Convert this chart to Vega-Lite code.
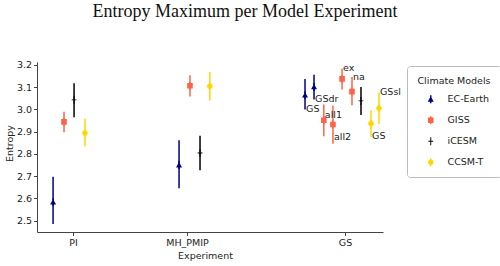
{
  "$schema": "https://vega.github.io/schema/vega-lite/v6.json",
  "width": 346,
  "height": 170,
  "autosize": {"type": "none"},
  "padding": {"left": 37, "top": 62, "right": 117, "bottom": 34},
  "background": "white",
  "title": {
    "text": "Entropy Maximum per Model Experiment",
    "font": "Liberation Serif",
    "fontSize": 18,
    "fontWeight": "normal",
    "color": "#111",
    "anchor": "middle",
    "frame": "group",
    "dx": 35,
    "offset": 39
  },
  "data": {
    "values": [
      {"Model": "EC-Earth", "Experiment": "PI", "pos": -0.175, "y": 2.583, "lo": 2.485, "hi": 2.697},
      {"Model": "GISS", "Experiment": "PI", "pos": -0.079, "y": 2.944, "lo": 2.897, "hi": 2.989},
      {"Model": "iCESM", "Experiment": "PI", "pos": 0.009, "y": 3.043, "lo": 2.965, "hi": 3.118},
      {"Model": "CCSM-T", "Experiment": "PI", "pos": 0.105, "y": 2.894, "lo": 2.834, "hi": 2.958},
      {"Model": "EC-Earth", "Experiment": "MH_PMIP", "pos": 0.93, "y": 2.75, "lo": 2.646, "hi": 2.861},
      {"Model": "GISS", "Experiment": "MH_PMIP", "pos": 1.026, "y": 3.106, "lo": 3.058, "hi": 3.153},
      {"Model": "iCESM", "Experiment": "MH_PMIP", "pos": 1.114, "y": 2.804, "lo": 2.727, "hi": 2.881},
      {"Model": "CCSM-T", "Experiment": "MH_PMIP", "pos": 1.2, "y": 3.104, "lo": 3.04, "hi": 3.168},
      {"Model": "EC-Earth", "Experiment": "GS", "pos": 2.035, "y": 3.064, "lo": 2.999, "hi": 3.137, "label": "GS", "label_y": 3.004},
      {"Model": "EC-Earth", "Experiment": "GS", "pos": 2.114, "y": 3.101, "lo": 3.044, "hi": 3.156, "label": "GSdr", "label_y": 3.047},
      {"Model": "GISS", "Experiment": "GS", "pos": 2.2, "y": 2.951, "lo": 2.879, "hi": 3.022, "label": "all1", "label_y": 2.975},
      {"Model": "GISS", "Experiment": "GS", "pos": 2.28, "y": 2.932, "lo": 2.846, "hi": 3.017, "label": "all2", "label_y": 2.876},
      {"Model": "GISS", "Experiment": "GS", "pos": 2.36, "y": 3.137, "lo": 3.089, "hi": 3.183, "label": "ex", "label_y": 3.184},
      {"Model": "GISS", "Experiment": "GS", "pos": 2.447, "y": 3.08, "lo": 3.019, "hi": 3.146, "label": "na", "label_y": 3.144},
      {"Model": "iCESM", "Experiment": "GS", "pos": 2.526, "y": 3.038, "lo": 2.975, "hi": 3.101},
      {"Model": "CCSM-T", "Experiment": "GS", "pos": 2.614, "y": 2.936, "lo": 2.876, "hi": 2.996, "label": "GS", "label_y": 2.88},
      {"Model": "CCSM-T", "Experiment": "GS", "pos": 2.684, "y": 3.005, "lo": 2.936, "hi": 3.077, "label": "GSsl", "label_y": 3.077}
    ]
  },
  "layer": [
    {
      "mark": {"type": "rule", "strokeWidth": 1.5},
      "encoding": {
        "x": {"field": "pos", "type": "quantitative"},
        "y": {"field": "lo", "type": "quantitative"},
        "y2": {"field": "hi"},
        "color": {"field": "Model", "type": "nominal", "title": "Climate Models",
          "scale": {"domain": ["EC-Earth", "GISS", "iCESM", "CCSM-T"], "range": ["#000080", "#FF6347", "#000000", "#FFD700"]}}
      }
    },
    {
      "mark": {"type": "point", "filled": true, "size": 64, "opacity": 1, "strokeWidth": 0},
      "encoding": {
        "x": {"field": "pos", "type": "quantitative"},
        "y": {"field": "y", "type": "quantitative"},
        "color": {"field": "Model", "type": "nominal", "title": "Climate Models",
          "scale": {"domain": ["EC-Earth", "GISS", "iCESM", "CCSM-T"], "range": ["#000080", "#FF6347", "#000000", "#FFD700"]}},
        "shape": {"field": "Model", "type": "nominal", "title": "Climate Models",
          "scale": {
            "domain": ["EC-Earth", "GISS", "iCESM", "CCSM-T"],
            "range": [
              "M0,-0.75L0.75,0.6L-0.75,0.6Z M-0.18,-1H0.18V1H-0.18Z",
              "M-0.7,-0.7H0.7V0.7H-0.7Z M-0.18,-1H0.18V1H-0.18Z",
              "M-0.6,-0.1H0.6V0.1H-0.6Z M-0.12,-1H0.12V1H-0.12Z",
              "M-0.7,0A0.7,0.7 0 1,1 0.7,0A0.7,0.7 0 1,1 -0.7,0Z M-0.18,-1H0.18V1H-0.18Z"
            ]
          }
        }
      }
    },
    {
      "transform": [{"filter": "isValid(datum.label)"}],
      "mark": {"type": "text", "align": "left", "baseline": "middle", "dx": 1, "font": "DejaVu Sans", "fontSize": 9.5, "color": "#222"},
      "encoding": {
        "x": {"field": "pos", "type": "quantitative"},
        "y": {"field": "label_y", "type": "quantitative"},
        "text": {"field": "label"}
      }
    }
  ],
  "encoding": {
    "x": {
      "field": "pos", "type": "quantitative",
      "scale": {"domain": [-0.316, 2.719], "nice": false, "zero": false},
      "axis": {
        "title": "Experiment",
        "values": [0, 1, 2.386],
        "labelExpr": "datum.value == 0 ? 'PI' : datum.value == 1 ? 'MH_PMIP' : 'GS'",
        "titleX": 168, "titleY": 23, "titleBaseline": "middle", "titleAlign": "center"
      }
    },
    "y": {
      "field": "y", "type": "quantitative",
      "scale": {"domain": [2.449, 3.213], "nice": false, "zero": false},
      "axis": {
        "title": "Entropy",
        "values": [2.5, 2.6, 2.7, 2.8, 2.9, 3.0, 3.1, 3.2],
        "format": ".1f",
        "titleX": -28, "titleY": 81, "titleAngle": -90, "titleBaseline": "middle", "titleAlign": "center"
      }
    }
  },
  "config": {
    "view": {"stroke": null},
    "axis": {
      "grid": false,
      "domainColor": "#444",
      "tickColor": "#444",
      "tickSize": 3.5,
      "labelColor": "#222",
      "labelFont": "DejaVu Sans",
      "labelFontSize": 9.5,
      "labelPadding": 2,
      "titleFont": "DejaVu Sans",
      "titleFontSize": 9.5,
      "titleFontWeight": "normal",
      "titleColor": "#222"
    },
    "legend": {
      "orient": "none",
      "legendX": 370,
      "legendY": 4,
      "padding": 10,
      "strokeColor": "#bbb",
      "fillColor": "white",
      "cornerRadius": 3,
      "titleFont": "DejaVu Sans",
      "titleFontSize": 9.5,
      "titleFontWeight": "normal",
      "titleColor": "#222",
      "titleAnchor": "middle",
      "titlePadding": 9,
      "labelFont": "DejaVu Sans",
      "labelFontSize": 9.5,
      "labelColor": "#222",
      "labelOffset": 12,
      "symbolOffset": 8,
      "symbolSize": 64,
      "symbolStrokeWidth": 0,
      "rowPadding": 10
    }
  }
}
